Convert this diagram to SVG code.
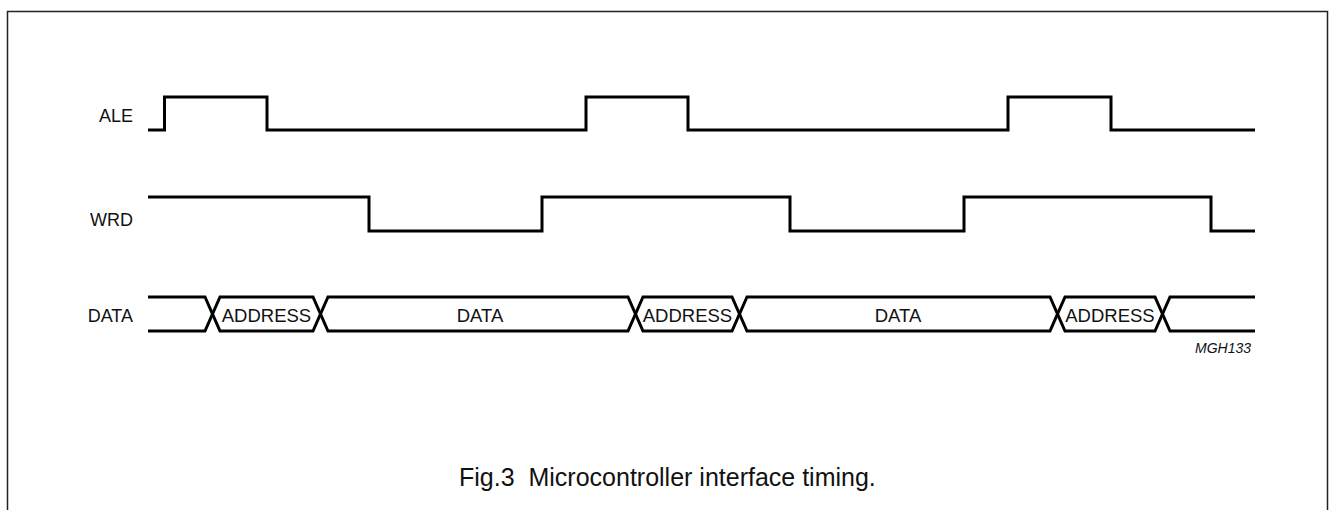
<svg xmlns="http://www.w3.org/2000/svg" width="1329" height="510" viewBox="0 0 1329 510">
<style>
.sig{fill:none;stroke:#000;stroke-width:3;stroke-linejoin:miter;stroke-linecap:butt}
.frame{fill:none;stroke:#222;stroke-width:1.5}
.lbl{font-family:"Liberation Sans",Arial,sans-serif;font-size:18px;fill:#111}
.bus{font-family:"Liberation Sans",Arial,sans-serif;font-size:18.5px;fill:#111}
.cap{font-family:"Liberation Sans",Arial,sans-serif;font-size:25px;fill:#111}
.code{font-family:"Liberation Sans",Arial,sans-serif;font-size:14px;font-style:italic;fill:#111}
</style>
<rect width="1329" height="510" fill="#fff"/>
<path class="frame" d="M7.5,520 V11.5 H1327.5 V520"/>
<g id="labels">
<text class="lbl" x="133" y="122" text-anchor="end">ALE</text>
<text class="lbl" x="133" y="226" text-anchor="end">WRD</text>
<text class="lbl" x="133" y="322" text-anchor="end">DATA</text>
</g>
<g id="connectors">
<path id="ale" class="sig" d="M148,130 H164.5 V97 H267 V130 H586 V97 H688 V130 H1008 V97 H1111 V130 H1255"/>
<path id="wrd" class="sig" d="M148,197 H369 V231 H542 V197 H790 V231 H964 V197 H1211 V231 H1255"/>
<g id="data" class="sig">
<path d="M148,297 H205 L220,331 H313 L328,297 H628 L643,331 H732 L747,297 H1050 L1065,331 H1155 L1170,297 H1255"/>
<path d="M148,331 H205 L220,297 H313 L328,331 H628 L643,297 H732 L747,331 H1050 L1065,297 H1155 L1170,331 H1255"/>
</g>
</g>
<g id="data-labels">
<text class="bus" x="266.5" y="322" text-anchor="middle">ADDRESS</text>
<text class="bus" x="480" y="322" text-anchor="middle">DATA</text>
<text class="bus" x="687.5" y="322" text-anchor="middle">ADDRESS</text>
<text class="bus" x="898" y="322" text-anchor="middle">DATA</text>
<text class="bus" x="1110" y="322" text-anchor="middle">ADDRESS</text>
</g>
<text class="code" x="1251" y="353" text-anchor="end">MGH133</text>
<text class="cap" x="459" y="486" xml:space="preserve">Fig.3  Microcontroller interface timing.</text>
</svg>
